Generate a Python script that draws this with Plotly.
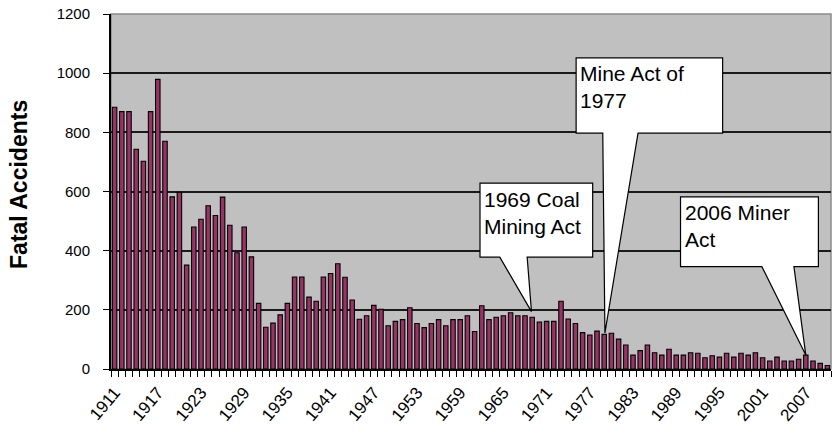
import plotly.graph_objects as go

years = list(range(1911, 2011))
fatal_accidents = [
    885, 870, 870, 743, 702, 870, 979, 770, 582, 597,
    351, 480, 506, 552, 519, 581, 486, 393, 480, 379,
    222, 141, 155, 183, 222, 311, 311, 243, 229, 311,
    323, 356, 310, 233, 168, 180, 215, 202, 146, 161,
    167, 207, 154, 140, 154, 167, 146, 167, 167, 180,
    127, 214, 167, 175, 180, 190, 180, 180, 175, 159,
    161, 161, 229, 169, 154, 123, 115, 128, 117, 121,
    101, 81, 47, 62, 81, 55, 47, 67, 47, 47,
    55, 53, 38, 45, 40, 53, 40, 53, 47, 55,
    38, 27, 40, 27, 27, 33, 47, 27, 19, 12,
]
tick_years = list(range(1911, 2011, 6))
tick_labels = [str(y) for y in tick_years]

callouts = [
    dict(text="1969 Coal<br>Mining Act", x0=1961.75, x1=1977.4, ytop=628, ybot=378,
         b0=1964.5, b1=1968.3, tipx=1968.9, tipy=194),
    dict(text="Mine Act of<br>1977", x0=1975.1, x1=1995.45, ytop=1052, ybot=797,
         b0=1978.8, b1=1983.7, tipx=1979.1, tipy=122),
    dict(text="2006 Miner<br>Act", x0=1989.6, x1=2008.75, ytop=582, ybot=346,
         b0=2000.9, b1=2005.35, tipx=2007.0, tipy=47),
]

FONT = "Arial, Liberation Sans, sans-serif"

fig = go.Figure()
fig.add_trace(go.Bar(
    x=years, y=fatal_accidents,
    marker=dict(color="#993366", line=dict(color="black", width=1.1)),
))

shapes = []
annotations = []
for c in callouts:
    path = (f"M {c['x0']},{c['ytop']} L {c['x1']},{c['ytop']} L {c['x1']},{c['ybot']} "
            f"L {c['b1']},{c['ybot']} L {c['tipx']},{c['tipy']} L {c['b0']},{c['ybot']} "
            f"L {c['x0']},{c['ybot']} Z")
    shapes.append(dict(type="path", path=path, xref="x", yref="y",
                       fillcolor="white", line=dict(color="black", width=1.2), layer="above"))
    annotations.append(dict(text=c["text"], x=c["x0"] + 0.3, y=c["ytop"] - 8,
                            xref="x", yref="y", xanchor="left", yanchor="top",
                            align="left", showarrow=False,
                            font=dict(family=FONT, size=21, color="black")))

# y-axis title
annotations.append(dict(text="<b>Fatal Accidents</b>", textangle=-90,
                        xref="paper", yref="paper", x=-0.127, y=0.52,
                        xanchor="center", yanchor="middle", showarrow=False,
                        font=dict(family=FONT, size=23, color="black")))

shapes.append(dict(type="rect", xref="paper", yref="paper", x0=0, x1=1, y0=0, y1=1,
                   line=dict(color="#8a8a8a", width=1.5), layer="below"))

fig.update_layout(
    width=833, height=444,
    margin=dict(l=111, r=2, t=14, b=75),
    paper_bgcolor="white", plot_bgcolor="#C0C0C0",
    bargap=0.38, showlegend=False,
    shapes=shapes, annotations=annotations,
    font=dict(family=FONT, color="black"),
)
fig.update_xaxes(
    range=[1910.5, 2010.5], tickmode="array", tickvals=tick_years, ticktext=tick_labels,
    tickangle=-50, ticks="", showgrid=False, zeroline=False, automargin=False,
    showline=True, linecolor="black", linewidth=2, ticklabelstandoff=5,
    tickfont=dict(size=17, family=FONT, color="black"),
    minor=dict(tick0=1910.5, dtick=1, ticks="outside", ticklen=6, tickcolor="black",
               tickwidth=1, showgrid=False),
)
fig.update_yaxes(
    range=[0, 1200], dtick=200, showgrid=True, gridcolor="#1a1a1a", gridwidth=1.5,
    zeroline=False, showline=True, linecolor="black", linewidth=2, automargin=False,
    ticks="outside", ticklen=6, tickcolor="black", ticklabelstandoff=10,
    tickfont=dict(size=15, family=FONT, color="black"),
)
fig.write_html("out.html", config={"displayModeBar": False},
               post_script=["document.body.style.margin='0';"])
